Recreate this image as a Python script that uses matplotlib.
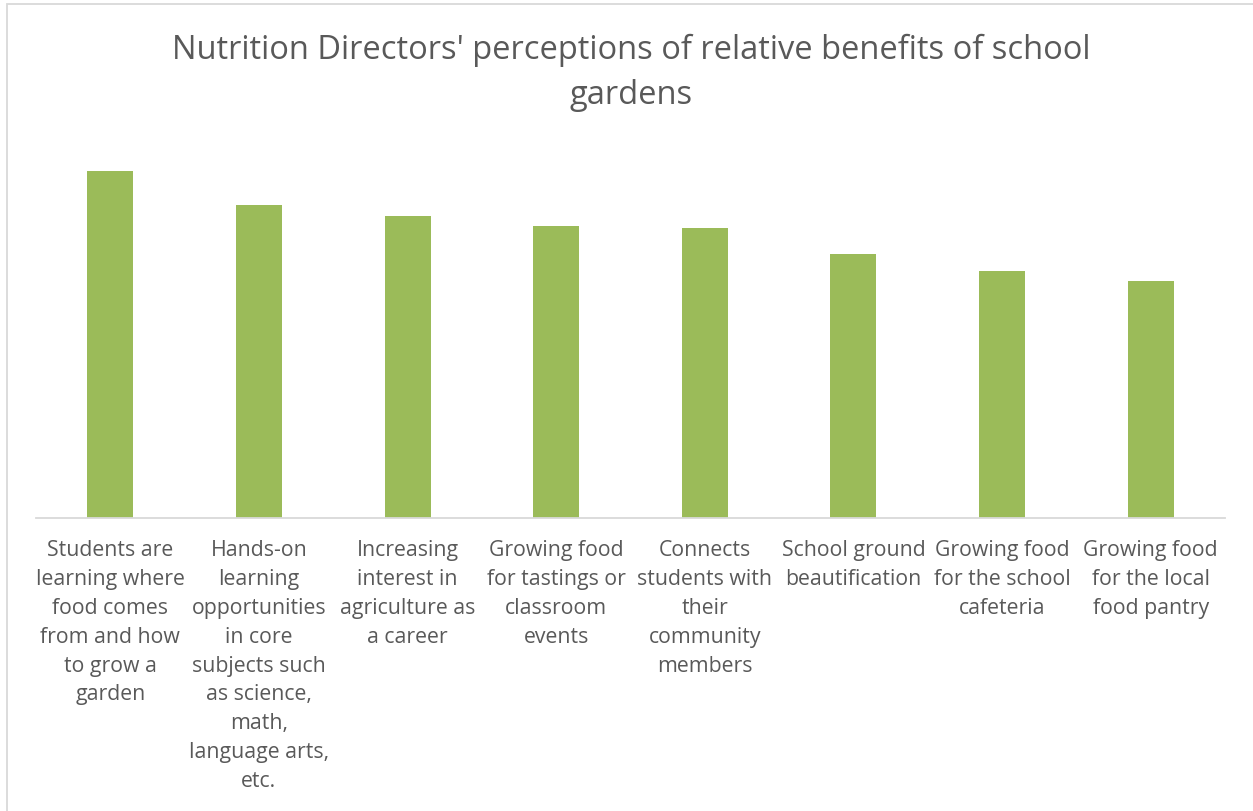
import matplotlib.pyplot as plt
import numpy as np

# Relative benefit scores (bar heights), one per benefit
categories = [
    "Students are\nlearning where\nfood comes\nfrom and how\nto grow a\ngarden",
    "Hands-on\nlearning\nopportunities\nin core\nsubjects such\nas science,\nmath,\nlanguage arts,\netc.",
    "Increasing\ninterest in\nagriculture as\na career",
    "Growing food\nfor tastings or\nclassroom\nevents",
    "Connects\nstudents with\ntheir\ncommunity\nmembers",
    "School ground\nbeautification",
    "Growing food\nfor the school\ncafeteria",
    "Growing food\nfor the local\nfood pantry",
]
scores = [347, 313, 302, 292, 290, 264, 247, 237]

title = "Nutrition Directors' perceptions of relative benefits of school\ngardens"

plt.rcParams['font.family'] = ['Open Sans', 'DejaVu Sans']
text_color = '#595959'

fig = plt.figure(figsize=(12.53, 8.11), dpi=100)
ax = fig.add_axes([36 / 1253, 1 - 518 / 811, 1189 / 1253, 387 / 811])

x = np.arange(len(categories))
ax.bar(x, scores, width=0.31, color='#9BBB59', zorder=2)

ax.set_xlim(-0.5, len(categories) - 0.5)
ax.set_ylim(0, 387)
ax.set_yticks([])
ax.set_xticks(x)
ax.set_xticklabels(categories, fontsize=15.3, color=text_color, linespacing=1.49)
ax.tick_params(axis='x', length=0, pad=16)

for side in ['top', 'right', 'left']:
    ax.spines[side].set_visible(False)
ax.spines['bottom'].set_color('#D9D9D9')
ax.spines['bottom'].set_linewidth(1.3)

fig.text(0.5035, 1 - 73 / 811, title, ha='center', va='center',
         fontsize=23.5, color=text_color, linespacing=1.45)

# light chart-area border (top and left edges visible)
fig.patches.append(plt.Rectangle((7 / 1253, -0.05), 1, 1.05 - 4 / 811,
                                 transform=fig.transFigure, fill=False,
                                 edgecolor='#D9D9D9', linewidth=1.3))

fig.savefig('out.png', dpi=100, facecolor='white')
